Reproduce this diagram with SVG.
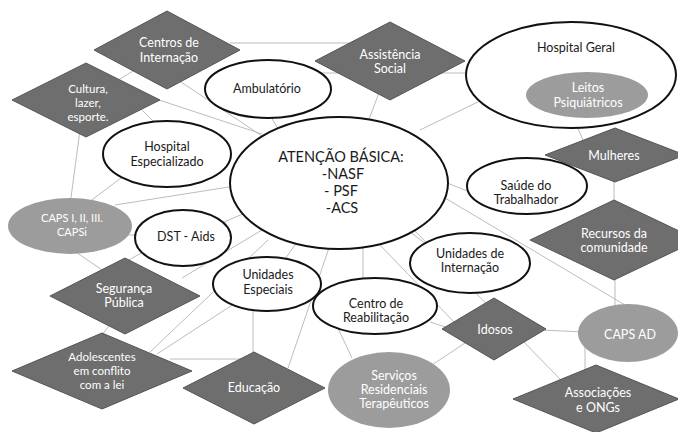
<svg xmlns="http://www.w3.org/2000/svg" width="678" height="432" viewBox="0 0 678 432">
<style>
.bg{fill:#ffffff}
.ln{stroke:#b4b4b4;stroke-width:0.9;fill:none}
.dia{fill:#6e6e6e;stroke:#555555;stroke-width:1}
.wel{fill:#ffffff;stroke:#111111;stroke-width:2}
.gel{fill:#9c9c9c;stroke:none}
text{font-family:Lato,"Open Sans","Liberation Sans",sans-serif;font-size:12.5px;text-anchor:middle}
.dk{fill:#1a1a1a}
.wt{fill:#ffffff}
.big{font-size:14.5px}
.sm{font-size:11px}
.md{font-size:11.5px}
</style>
<rect class="bg" x="0" y="0" width="678" height="432"/>
<g id="connectors">
<line class="ln" x1="230" y1="43" x2="350" y2="43"/>
<line class="ln" x1="167" y1="50" x2="86" y2="100"/>
<line class="ln" x1="175" y1="78" x2="262" y2="136"/>
<line class="ln" x1="150" y1="97" x2="262" y2="134"/>
<line class="ln" x1="140" y1="108" x2="160" y2="128"/>
<line class="ln" x1="80" y1="130" x2="70" y2="205"/>
<line class="ln" x1="125" y1="175" x2="85" y2="205"/>
<line class="ln" x1="115" y1="205" x2="235" y2="186"/>
<line class="ln" x1="125" y1="235" x2="145" y2="235"/>
<line class="ln" x1="70" y1="248" x2="105" y2="272"/>
<line class="ln" x1="150" y1="248" x2="120" y2="265"/>
<line class="ln" x1="210" y1="228" x2="252" y2="210"/>
<line class="ln" x1="182" y1="278" x2="262" y2="230"/>
<line class="ln" x1="112" y1="322" x2="98" y2="340"/>
<line class="ln" x1="150" y1="352" x2="268" y2="240"/>
<line class="ln" x1="157" y1="354" x2="240" y2="300"/>
<line class="ln" x1="170" y1="359" x2="242" y2="359"/>
<line class="ln" x1="253" y1="300" x2="253" y2="360"/>
<line class="ln" x1="283" y1="262" x2="297" y2="242"/>
<line class="ln" x1="288" y1="368" x2="330" y2="245"/>
<line class="ln" x1="363" y1="245" x2="363" y2="285"/>
<line class="ln" x1="335" y1="322" x2="352" y2="358"/>
<line class="ln" x1="380" y1="245" x2="455" y2="323"/>
<line class="ln" x1="405" y1="228" x2="452" y2="264"/>
<line class="ln" x1="415" y1="231" x2="562" y2="381"/>
<line class="ln" x1="430" y1="322" x2="452" y2="329"/>
<line class="ln" x1="432" y1="365" x2="468" y2="341"/>
<line class="ln" x1="540" y1="330" x2="585" y2="332"/>
<line class="ln" x1="615" y1="270" x2="615" y2="310"/>
<line class="ln" x1="585" y1="345" x2="585" y2="372"/>
<line class="ln" x1="445" y1="198" x2="630" y2="308"/>
<line class="ln" x1="440" y1="180" x2="472" y2="193"/>
<line class="ln" x1="420" y1="130" x2="482" y2="100"/>
<line class="ln" x1="318" y1="73" x2="472" y2="73"/>
<line class="ln" x1="380" y1="90" x2="368" y2="122"/>
<line class="ln" x1="268" y1="112" x2="280" y2="132"/>
<line class="ln" x1="576" y1="124" x2="583" y2="140"/>
<line class="ln" x1="614" y1="175" x2="614" y2="206"/>
</g>
<g id="centros"><polygon class="dia" points="94,50 167,11 240,50 167,89"/><text class="wt" x="169" y="47">Centros de</text><text class="wt" x="169" y="62">Internação</text></g>
<g id="cultura"><polygon class="dia" points="12,100 86,63 160,100 86,137"/><text class="wt md" x="88" y="93">Cultura,</text><text class="wt md" x="88" y="107">lazer,</text><text class="wt md" x="88" y="121">esporte.</text></g>
<g id="assistencia"><polygon class="dia" points="315,61 390,22 465,61 390,100"/><text class="wt" x="390" y="59">Assistência</text><text class="wt" x="390" y="73">Social</text></g>
<g id="ambulatorio"><ellipse class="wel" cx="268" cy="89" rx="63" ry="29"/><text class="dk" x="267" y="93">Ambulatório</text></g>
<g id="hospital-geral"><ellipse class="wel" cx="571" cy="75" rx="105" ry="53"/><text class="dk" x="576" y="52">Hospital  Geral</text>
<ellipse class="gel" cx="587" cy="95" rx="61" ry="23"/><text class="wt" x="588" y="92">Leitos</text><text class="wt" x="588" y="107">Psiquiátricos</text></g>
<g id="hospital-especializado"><ellipse class="wel" cx="167" cy="154" rx="64" ry="33"/><text class="dk" x="167" y="151">Hospital</text><text class="dk" x="167" y="166">Especializado</text></g>
<g id="atencao-basica"><ellipse class="wel" cx="339" cy="183" rx="109" ry="66"/><text class="dk big" x="341" y="162">ATENÇÃO BÁSICA:</text><text class="dk big" x="343" y="179">-NASF</text><text class="dk big" x="341" y="196">- PSF</text><text class="dk big" x="342" y="213">-ACS</text></g>
<g id="mulheres"><polygon class="dia" points="545,155 615,128 685,155 615,182"/><text class="wt" x="614" y="160">Mulheres</text></g>
<g id="saude-trabalhador"><ellipse class="wel" cx="527" cy="186" rx="60" ry="28"/><text class="dk" x="526" y="190">Saúde do</text><text class="dk" x="526" y="204">Trabalhador</text></g>
<g id="caps-i"><ellipse class="gel" cx="70" cy="226" rx="62" ry="28"/><text class="wt sm" x="72" y="222">CAPS I, II, III.</text><text class="wt sm" x="72" y="236">CAPSi</text></g>
<g id="dst-aids"><ellipse class="wel" cx="183" cy="238" rx="48" ry="28"/><text class="dk" x="186" y="241">DST - Aids</text></g>
<g id="recursos"><polygon class="dia" points="530,240 614,200 698,240 614,280"/><text class="wt" x="614" y="238">Recursos da</text><text class="wt" x="614" y="252">comunidade</text></g>
<g id="unidades-internacao"><ellipse class="wel" cx="470" cy="263" rx="60" ry="30"/><text class="dk" x="470" y="258">Unidades de</text><text class="dk" x="470" y="272">Internação</text></g>
<g id="unidades-especiais"><ellipse class="wel" cx="267" cy="284" rx="54" ry="27"/><text class="dk" x="268" y="279">Unidades</text><text class="dk" x="268" y="294">Especiais</text></g>
<g id="seguranca"><polygon class="dia" points="50,296 125,258 200,296 125,334"/><text class="wt" x="124" y="293">Segurança</text><text class="wt" x="124" y="307">Pública</text></g>
<g id="centro-reabilitacao"><ellipse class="wel" cx="375" cy="306" rx="62" ry="28"/><text class="dk" x="376" y="308">Centro de</text><text class="dk" x="376" y="322">Reabilitação</text></g>
<g id="idosos"><polygon class="dia" points="442,329 494,298 546,329 494,360"/><text class="wt" x="495" y="334">Idosos</text></g>
<g id="caps-ad"><ellipse class="gel" cx="628" cy="333" rx="50" ry="29"/><text class="wt" x="630" y="339">CAPS AD</text></g>
<g id="adolescentes"><polygon class="dia" points="12,371 102,333 192,371 102,409"/><text class="wt md" x="102" y="361">Adolescentes</text><text class="wt md" x="102" y="375">em conflito</text><text class="wt md" x="102" y="389">com a lei</text></g>
<g id="educacao"><polygon class="dia" points="183,388 254,352 325,388 254,424"/><text class="wt" x="254" y="392">Educação</text></g>
<g id="servicos"><ellipse class="gel" cx="389" cy="390" rx="61" ry="38"/><text class="wt" x="394" y="380">Serviços</text><text class="wt" x="394" y="394">Residenciais</text><text class="wt" x="394" y="408">Terapêuticos</text></g>
<g id="associacoes"><polygon class="dia" points="513,399 596,365 679,399 596,433"/><text class="wt" x="598" y="397">Associações</text><text class="wt" x="598" y="412">e ONGs</text></g>
</svg>
